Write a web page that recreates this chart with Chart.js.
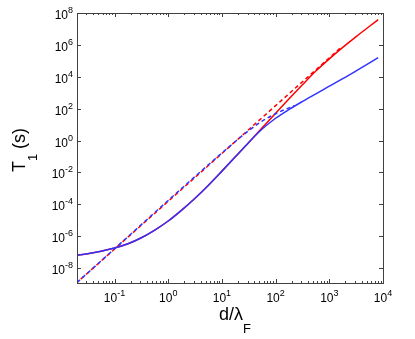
<!DOCTYPE html>
<html>
<head>
<meta charset="utf-8">
<script src="https://cdn.jsdelivr.net/npm/chart.js@4.4.0/dist/chart.umd.min.js"></script>
<style>
  html, body { margin: 0; padding: 0; background: #fff; }
  #wrap { width: 415px; height: 339px; }
</style>
</head>
<body>
<div id="wrap"><canvas id="t1_chart" width="415" height="339"></canvas></div>
<script>
// d/lambda_F samples and T1 (s)
// both solid curves are the same until d/lambda_F ~ 40
var xShared = [0.02, 0.0316, 0.0562, 0.1, 0.178, 0.316, 0.562, 1, 1.78, 3.16, 5.62, 10, 17.8, 31.6];
var yShared = [6.5e-8, 7.9e-8, 1.12e-7, 1.78e-7, 3.3e-7, 7.9e-7, 2.4e-6, 8.9e-6, 4.3e-5, 2.4e-4, 1.58e-3, 1.2e-2, 9.5e-2, 0.76];

var xTail = [56.2, 100, 178, 316, 562, 1000, 1780, 3160, 5620, 8130];
var redTail = [6.3, 52, 417, 3160, 2.29e4, 1.32e5, 6.9e5, 3.3e6, 1.48e7, 3.8e7];
var blueTail = [5.25, 25, 89, 282, 851, 2570, 7590, 2.34e4, 7.41e4, 1.58e5];

// dashed asymptotes
var redDashX = [0.02, 1600];
var redDashY = [1.24e-9, 6.3e5];
var blueDashX = [0.02, 17.8, 31.6, 56.2, 100, 178, 224];
var blueDashY = [1.24e-9, 0.87, 4.2, 16.6, 48, 112, 151];

// tick labels (powers of ten)
var xTicks = [0.1, 1, 10, 100, 1000, 10000];
var yTicks = [1e-8, 1e-6, 1e-4, 1e-2, 1, 1e2, 1e4, 1e6, 1e8];

var RED = 'rgb(255, 0, 0)';
var BLUE = 'rgb(50, 50, 255)';
var FONT = '"Liberation Sans", Arial, sans-serif';

function pts(xs, ys) {
  var out = [];
  for (var i = 0; i < xs.length; i++) out.push({ x: xs[i], y: ys[i] });
  return out;
}

function drawPow(ctx, exp, x, y, align) {
  // "10" with a raised exponent, y is the baseline of "10"
  ctx.font = '12px ' + FONT;
  var w10 = ctx.measureText('10').width;
  ctx.font = '9px ' + FONT;
  var wE = ctx.measureText(exp).width;
  var start = align === 'right' ? x - w10 - wE : x - (w10 + wE) / 2;
  ctx.textAlign = 'left';
  ctx.textBaseline = 'alphabetic';
  ctx.font = '12px ' + FONT;
  ctx.fillText('10', start, y);
  ctx.font = '9px ' + FONT;
  ctx.fillText(exp, start + w10, y - 6);
}

var frame = {
  id: 'frame',
  afterDraw: function(chart) {
    var ctx = chart.ctx;
    var a = chart.chartArea;
    var sx = chart.scales.x, sy = chart.scales.y;
    var i, k, p;

    ctx.save();
    ctx.strokeStyle = '#404040';
    ctx.lineWidth = 1;
    ctx.strokeRect(a.left + 0.5, a.top + 0.5, a.right - a.left, a.bottom - a.top);

    ctx.beginPath();
    // x major + minor ticks, inward on bottom and top
    for (var d = -2; d <= 3; d++) {
      for (k = 1; k <= 9; k++) {
        var v = k * Math.pow(10, d);
        if (v < sx.min || v > sx.max) continue;
        p = Math.round(sx.getPixelForValue(v)) + 0.5;
        var len = k === 1 ? 4 : 2;
        ctx.moveTo(p, a.bottom); ctx.lineTo(p, a.bottom - len);
        ctx.moveTo(p, a.top); ctx.lineTo(p, a.top + len);
      }
    }
    p = Math.round(sx.getPixelForValue(10000)) + 0.5;
    ctx.moveTo(p, a.bottom); ctx.lineTo(p, a.bottom - 4);
    // y major ticks, inward on left and right
    for (i = 0; i < yTicks.length; i++) {
      p = Math.round(sy.getPixelForValue(yTicks[i])) + 0.5;
      ctx.moveTo(a.left, p); ctx.lineTo(a.left + 4, p);
      ctx.moveTo(a.right, p); ctx.lineTo(a.right - 4, p);
    }
    ctx.stroke();

    ctx.fillStyle = '#000';
    for (i = 0; i < xTicks.length; i++) {
      p = sx.getPixelForValue(xTicks[i]);
      drawPow(ctx, String(Math.round(Math.log10(xTicks[i]))), p, a.bottom + 19, 'center');
    }
    for (i = 0; i < yTicks.length; i++) {
      p = sy.getPixelForValue(yTicks[i]);
      drawPow(ctx, String(Math.round(Math.log10(yTicks[i]))), a.left - 4, p + 6, 'right');
    }

    // x title: d/lambda_F
    ctx.textAlign = 'left';
    ctx.font = '18px ' + FONT;
    var w1 = ctx.measureText('d/\u03bb').width;
    ctx.font = '13px ' + FONT;
    var w2 = ctx.measureText('F').width;
    var cx = (a.left + a.right) / 2 + 5;
    var xs0 = cx - (w1 + w2) / 2;
    ctx.font = '18px ' + FONT;
    ctx.fillText('d/\u03bb', xs0, a.bottom + 37);
    ctx.font = '13px ' + FONT;
    ctx.fillText('F', xs0 + w1, a.bottom + 50);

    // y title: T_1 (s)
    ctx.translate(25, (a.top + a.bottom) / 2 + 2);
    ctx.rotate(-Math.PI / 2);
    ctx.font = '18px ' + FONT;
    var wT = ctx.measureText('T').width;
    var wS = ctx.measureText(' (s)').width;
    ctx.font = '13px ' + FONT;
    var w1s = ctx.measureText('1').width;
    var ys0 = -(wT + w1s + wS) / 2;
    ctx.font = '18px ' + FONT;
    ctx.fillText('T', ys0, 0);
    ctx.font = '13px ' + FONT;
    ctx.fillText('1', ys0 + wT, 12);
    ctx.font = '18px ' + FONT;
    ctx.fillText(' (s)', ys0 + wT + w1s, 0);
    ctx.restore();
  }
};

function startChart() {
  var data = {
    datasets: [
      {
        data: pts(xShared.concat(xTail), yShared.concat(blueTail)),
        borderColor: BLUE, borderWidth: 1.5,
        cubicInterpolationMode: 'monotone', order: 1
      },
      {
        data: pts(blueDashX, blueDashY),
        borderColor: BLUE, borderWidth: 1.5, borderDash: [4, 3],
        cubicInterpolationMode: 'monotone', order: 2
      },
      {
        data: pts(redDashX, redDashY),
        borderColor: RED, borderWidth: 1.5, borderDash: [4, 3], borderDashOffset: 2,
        order: 3
      },
      {
        data: pts(xShared.concat(xTail), yShared.concat(redTail)),
        borderColor: RED, borderWidth: 1.5,
        cubicInterpolationMode: 'monotone', order: 4
      }
    ]
  };

  new Chart('t1_chart', {
    type: 'line',
    data: data,
    options: {
      responsive: false,
      animation: false,
      devicePixelRatio: 1,
      layout: { padding: { left: 77, right: 32, top: 13, bottom: 56 } },
      elements: { point: { radius: 0 } },
      plugins: { legend: { display: false }, tooltip: { enabled: false } },
      scales: {
        x: { type: 'logarithmic', min: 0.02, max: 10000, display: false },
        y: { type: 'logarithmic', min: 1.15e-9, max: 1e8, display: false }
      }
    },
    plugins: [frame]
  });
}

startChart();
</script>
</body>
</html>
